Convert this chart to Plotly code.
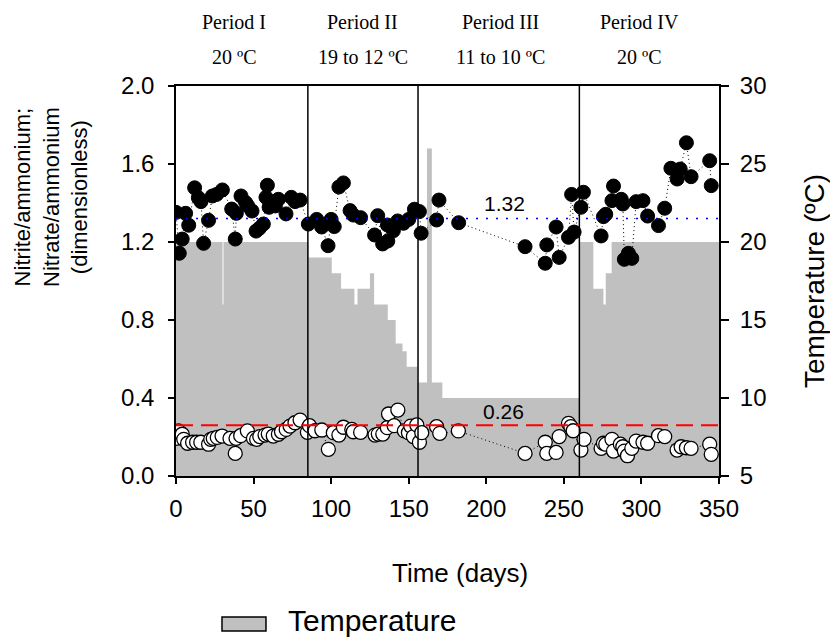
import plotly.graph_objects as go

# ---------------- data ----------------
days_ratio_high = [0, 2.1, 4, 6.2, 8.2, 12, 14.4, 16.1, 17.8, 21, 23.4, 26.2, 29.9, 35.9, 38.2, 38.9,
                   41.9, 44.9, 46.2, 49, 51.6, 53.7, 56.3, 58, 58.9, 60, 62.8, 64, 66, 70.9, 74.3,
                   76.7, 80, 85.3, 90.7, 93.9, 98, 100, 102, 105, 107.9, 112.2, 114.3, 119, 128,
                   130, 133.2, 136.3, 136.5, 140.1, 142.9, 146.6, 150, 153.7, 156.9, 158, 168,
                   169.5, 182.2, 225, 238, 239, 245, 247, 253, 255, 256.6, 261, 262.6, 274,
                   275.5, 277, 281, 282, 287, 288, 289, 291.6, 293.8, 296.6, 301, 304, 311, 315,
                   319, 323, 325, 329, 332, 344, 345]
ratio_high = [1.352, 1.142, 1.215, 1.347, 1.286, 1.478, 1.427, 1.407, 1.193, 1.311, 1.436, 1.444,
              1.467, 1.369, 1.215, 1.347, 1.436, 1.402, 1.386, 1.359, 1.256, 1.27, 1.292, 1.429,
              1.491, 1.378, 1.405, 1.385, 1.419, 1.344, 1.429, 1.407, 1.415, 1.292, 1.316, 1.277,
              1.181, 1.316, 1.279, 1.482, 1.503, 1.361, 1.338, 1.325, 1.236, 1.335, 1.19, 1.287,
              1.205, 1.258, 1.308, 1.296, 1.316, 1.368, 1.356, 1.245, 1.313, 1.415, 1.299, 1.176,
              1.091, 1.185, 1.277, 1.121, 1.224, 1.444, 1.251, 1.378, 1.455, 1.231, 1.33, 1.342,
              1.412, 1.487, 1.419, 1.395, 1.111, 1.142, 1.116, 1.407, 1.412, 1.333, 1.284, 1.373,
              1.578, 1.523, 1.574, 1.709, 1.535, 1.617, 1.489]

days_ratio_low = [0, 1.5, 4, 5, 7.5, 10.7, 13.3, 16, 21, 22.4, 24, 26.6, 29.7, 34.8, 38.2, 38.7,
                  41.7, 46, 49.9, 52, 54, 57.4, 59.5, 62.7, 66, 68, 71, 73.5, 76.7, 80, 84.7, 86,
                  89.6, 94, 98.2, 101.4, 105, 107.9, 113.3, 114.3, 119, 128.3, 130.4, 133.3, 136.2,
                  137, 140.6, 143, 147.2, 149.8, 151.3, 153, 155.2, 156.9, 158.4, 168, 170, 182,
                  225, 238, 239, 245, 247, 253, 254.5, 256, 261, 263, 274, 275.5, 277, 281, 282,
                  286.4, 288, 289, 291, 293.8, 296.6, 301, 304, 311, 315, 323, 325.6, 329, 332,
                  344, 345]
ratio_low = [0.193, 0.231, 0.214, 0.188, 0.168, 0.173, 0.173, 0.173, 0.163, 0.188, 0.193, 0.198,
             0.205, 0.193, 0.116, 0.193, 0.207, 0.231, 0.193, 0.188, 0.202, 0.21, 0.215, 0.205,
             0.214, 0.227, 0.239, 0.256, 0.273, 0.287, 0.224, 0.258, 0.232, 0.236, 0.137, 0.222,
             0.21, 0.25, 0.239, 0.227, 0.224, 0.21, 0.215, 0.215, 0.248, 0.318, 0.258, 0.338,
             0.231, 0.222, 0.256, 0.202, 0.262, 0.173, 0.222, 0.253, 0.219, 0.231, 0.116, 0.173,
             0.116, 0.121, 0.202, 0.27, 0.253, 0.232, 0.133, 0.188, 0.142, 0.168, 0.163, 0.188,
             0.128, 0.163, 0.15, 0.128, 0.104, 0.142, 0.179, 0.173, 0.168, 0.207, 0.202, 0.133,
             0.15, 0.145, 0.142, 0.163, 0.111]

temp_days = [0, 30, 30.6, 85.3, 100.4, 106.4, 115, 117, 125, 127.7, 136.5, 141.6, 146, 148.7,
             155.8, 161.8, 164.9, 171.7, 260.3, 269, 275.5, 277, 280.8, 350]
temp_vals = [20, 16, 20, 19, 18, 17, 16, 17, 18, 16, 15, 13.5, 13, 12, 11, 26, 11, 10, 20, 17,
             16, 18, 20, 20]

period_bounds = [85, 156, 260]
period_names = ["Period I", "Period II", "Period III", "Period IV"]
period_temps = ["20 ºC", "19 to 12 ºC", "11 to 10 ºC", "20 ºC"]
period_label_days = [37.4, 120.5, 208.9, 298.5]

mean_high = 1.32
mean_low = 0.26

x_ticks = [0, 50, 100, 150, 200, 250, 300, 350]
ratio_ticks = [0.0, 0.4, 0.8, 1.2, 1.6, 2.0]
temp_ticks = [5, 10, 15, 20, 25, 30]

# ---------------- figure ----------------
SANS = "Liberation Sans, Arial, sans-serif"
SERIF = "Liberation Serif, Times New Roman, serif"

fig = go.Figure()

fig.add_trace(go.Scatter(
    x=temp_days, y=temp_vals, yaxis="y", mode="lines", line_shape="hv",
    line=dict(width=0, color="#c0c0c0"), fill="tozeroy", fillcolor="#c0c0c0",
    name="Temperature", showlegend=False, hoverinfo="skip"))

fig.add_trace(go.Scatter(
    x=days_ratio_high, y=ratio_high, yaxis="y2", mode="lines+markers",
    line=dict(color="black", width=1, dash="1px,3px"),
    marker=dict(symbol="circle", size=14, color="black", line=dict(color="black", width=1)),
    name="Nitrite/ammonium", showlegend=False))

fig.add_trace(go.Scatter(
    x=days_ratio_low, y=ratio_low, yaxis="y2", mode="lines+markers",
    line=dict(color="black", width=1, dash="1px,3px"),
    marker=dict(symbol="circle", size=14, color="white", line=dict(color="black", width=1.3)),
    name="Nitrate/ammonium", showlegend=False))

shapes = []
for b in period_bounds:
    shapes.append(dict(type="line", xref="x", yref="paper", x0=b, x1=b, y0=0, y1=1,
                       line=dict(color="black", width=1.5), layer="above"))
shapes.append(dict(type="line", xref="paper", yref="y2", x0=0, x1=1, y0=mean_high, y1=mean_high,
                   line=dict(color="#0000ff", width=1.5, dash="2px,8px"), layer="above"))
shapes.append(dict(type="line", xref="paper", yref="y2", x0=0, x1=1, y0=mean_low, y1=mean_low,
                   line=dict(color="#ff0000", width=2, dash="17px,8px"), layer="above"))
# manual legend swatch
shapes.append(dict(type="rect", xref="paper", yref="paper", x0=0.0847, x1=0.1657,
                   y0=-0.3974, y1=-0.3615, fillcolor="#c0c0c0",
                   line=dict(color="black", width=1.5)))

annotations = []
for name, t, d in zip(period_names, period_temps, period_label_days):
    annotations.append(dict(x=d, y=1.164, xref="x", yref="paper", text=name, showarrow=False,
                            xanchor="center", yanchor="middle",
                            font=dict(family=SERIF, size=20, color="black")))
    annotations.append(dict(x=d, y=1.074, xref="x", yref="paper", text=t, showarrow=False,
                            xanchor="center", yanchor="middle",
                            font=dict(family=SERIF, size=20, color="black")))
annotations.append(dict(x=212, y=1.40, xref="x", yref="y2", text=f"{mean_high:.2f}",
                        xanchor="center", yanchor="middle",
                        showarrow=False, font=dict(family=SANS, size=21, color="black")))
annotations.append(dict(x=211, y=0.33, xref="x", yref="y2", text=f"{mean_low:.2f}",
                        xanchor="center", yanchor="middle",
                        showarrow=False, font=dict(family=SANS, size=21, color="black")))
annotations.append(dict(x=(51 - 176) / 543, y=(476 - 197) / 390, xref="paper", yref="paper",
                        text="Nitrite/ammonium;<br>Nitrate/ammonium<br>(dimensionless)",
                        textangle=-90, showarrow=False, xanchor="center", yanchor="middle",
                        font=dict(family=SANS, size=22, color="black")))
annotations.append(dict(x=(460 - 176) / 543, y=(476 - 573) / 390, xref="paper", yref="paper",
                        text="Time (days)", xanchor="center", yanchor="middle", showarrow=False,
                        font=dict(family=SANS, size=26, color="black")))
annotations.append(dict(x=(286 - 176) / 543, y=(476 - 620) / 390, xref="paper", yref="paper",
                        text="Temperature", xanchor="left", yanchor="middle", showarrow=False,
                        font=dict(family=SANS, size=30, color="black")))

fig.update_layout(
    width=830, height=639, autosize=False,
    margin=dict(l=176, r=111, t=86, b=163),
    paper_bgcolor="white", plot_bgcolor="white",
    showlegend=False,
    font=dict(family=SANS, size=24, color="black"),
    xaxis=dict(range=[0, 350], tickvals=x_ticks, ticks="outside", ticklen=6, tickwidth=1.5,
               tickcolor="black", showline=True, linecolor="black", linewidth=1.5, mirror=True,
               showgrid=False, zeroline=False, ticklabelstandoff=4, automargin=False),
    yaxis=dict(range=[5, 30], tickvals=temp_ticks, side="right", ticks="outside", ticklen=8,
               tickwidth=1.5, tickcolor="black", showline=True, linecolor="black", linewidth=2,
               showgrid=False, zeroline=False, ticklabelstandoff=6, automargin=False,
               title=dict(text="Temperature (ºC)", font=dict(size=28), standoff=40)),
    yaxis2=dict(range=[0, 2.0], tickvals=ratio_ticks, tickformat=".1f", overlaying="y",
                side="left", ticks="outside", ticklen=6, tickwidth=1.5, tickcolor="black",
                showline=True, linecolor="black", linewidth=1.5, showgrid=False, zeroline=False,
                ticklabelstandoff=9, automargin=False),
    shapes=shapes, annotations=annotations,
)

fig.write_html("out.html")
